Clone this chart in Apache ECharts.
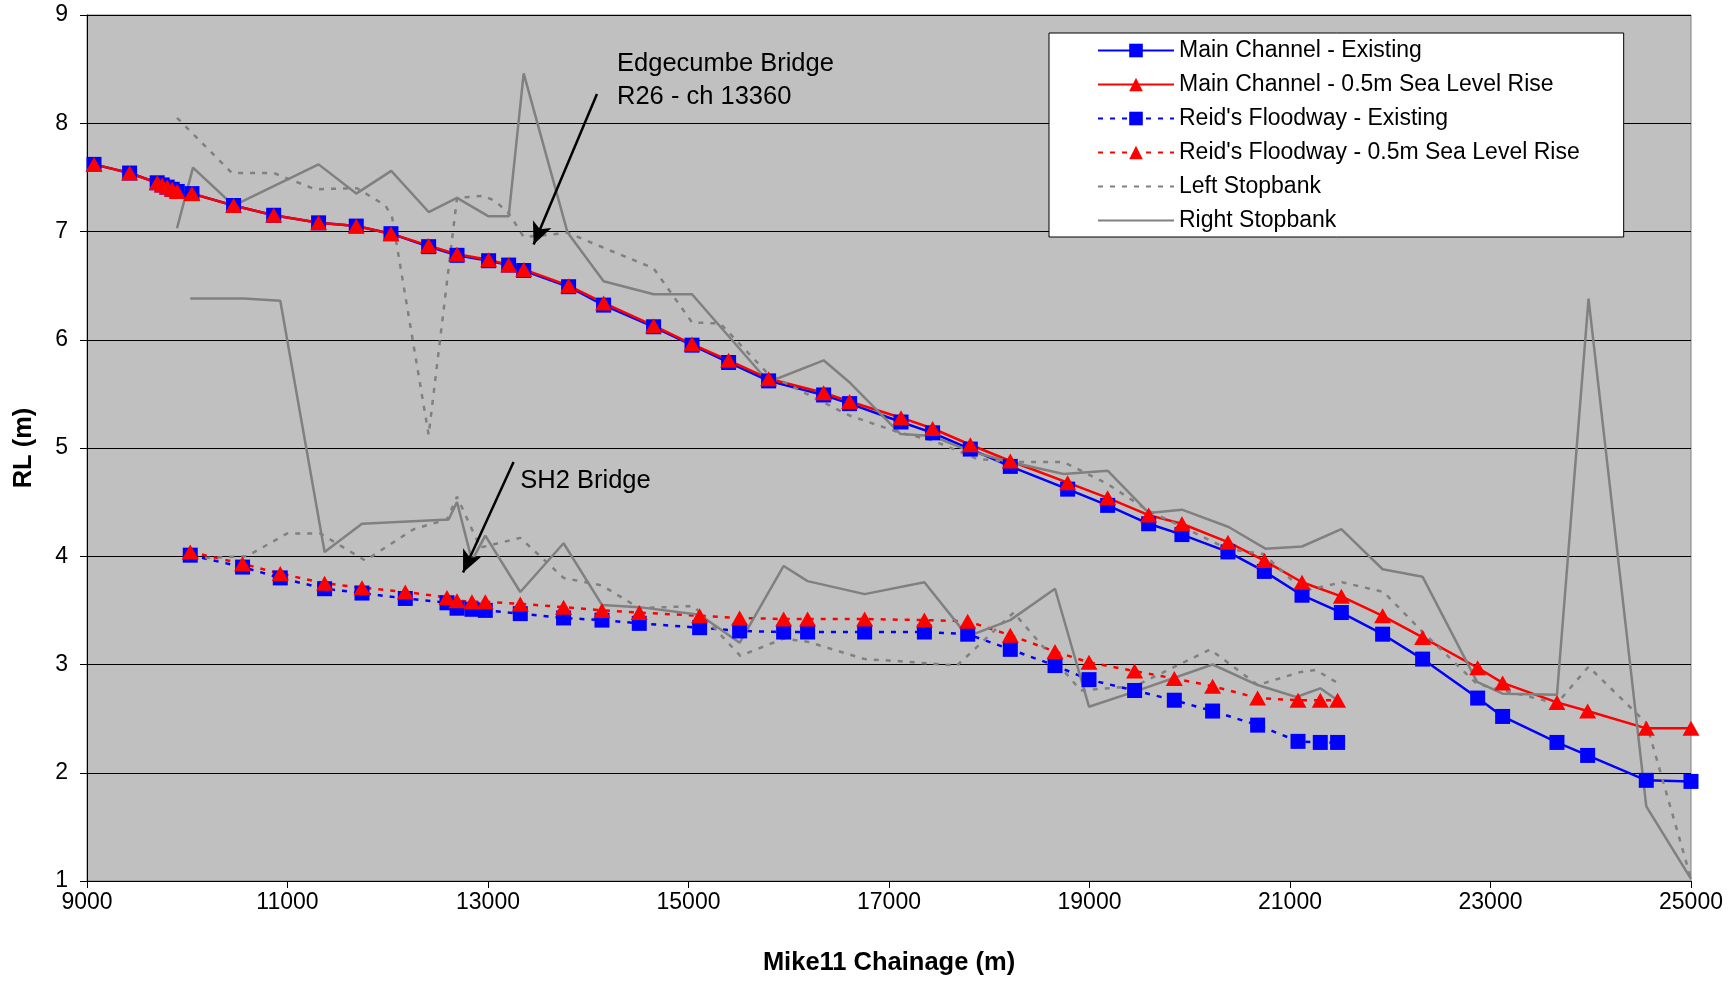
<!DOCTYPE html>
<html><head><meta charset="utf-8">
<script src="https://cdn.jsdelivr.net/npm/echarts@6/dist/echarts.min.js"></script>
<style>html,body{margin:0;padding:0;background:#fff}#c{width:1732px;height:981px}</style>
</head><body><div id="c"></div>
<script>
// ---------- DATA ----------
const mainX = [9070,9425,9700,9750,9800,9850,9900,10047,10462,10862,11310,11686,12032,12408,12691,13006,13206,13356,13804,14153,14652,15035,15400,15799,16348,16607,17120,17435,17811,18210,18782,19181,19590,19922,20381,20744,21120,21512,21924,22323,22872,23121,23663,23969,24554,25000];
const mainExisting = [7.62,7.54,7.45,7.43,7.41,7.39,7.37,7.35,7.24,7.15,7.08,7.05,6.98,6.86,6.78,6.73,6.69,6.64,6.49,6.32,6.12,5.95,5.79,5.62,5.49,5.41,5.24,5.14,4.99,4.83,4.62,4.47,4.30,4.20,4.04,3.86,3.64,3.48,3.28,3.05,2.69,2.52,2.28,2.16,1.93,1.92];
const mainSLR = [7.62,7.54,7.45,7.43,7.41,7.39,7.37,7.35,7.24,7.15,7.08,7.05,6.98,6.87,6.79,6.74,6.69,6.65,6.50,6.34,6.13,5.96,5.81,5.64,5.51,5.43,5.28,5.18,5.03,4.88,4.68,4.54,4.38,4.30,4.13,3.96,3.76,3.63,3.45,3.25,2.97,2.83,2.65,2.57,2.41,2.41];

const reidX = [10030,10552,10928,11370,11743,12175,12591,12691,12840,12973,13322,13754,14137,14509,15111,15510,15949,16188,16757,17353,17785,18210,18656,18995,19450,19846,20228,20677,21080,21302,21475];
const reidExisting = [4.01,3.90,3.80,3.70,3.66,3.61,3.57,3.52,3.51,3.50,3.47,3.43,3.41,3.38,3.34,3.31,3.30,3.30,3.30,3.30,3.28,3.14,2.99,2.86,2.76,2.67,2.57,2.44,2.29,2.28,2.28];
const reidSLR = [4.04,3.93,3.84,3.75,3.71,3.67,3.62,3.59,3.58,3.58,3.56,3.53,3.50,3.48,3.45,3.43,3.42,3.42,3.42,3.41,3.40,3.27,3.12,3.02,2.94,2.87,2.80,2.69,2.67,2.67,2.67];

const leftBankMainX = [9898,10446,10862,11277,11693,11976,12042,12408,12691,12956,13073,13206,13356,13622,13794,14153,14652,15035,15317,15799,16348,16607,17113,17435,17878,18227,18742,19175,19590,19906,20372,20737,21136,21519,21934,22323,22866,23663,23978,24554,25000];
const leftBankMainY = [8.05,7.54,7.54,7.39,7.40,7.24,7.14,5.12,7.31,7.33,7.28,7.17,6.95,6.97,6.99,6.85,6.66,6.16,6.15,5.68,5.42,5.30,5.14,5.07,4.90,4.87,4.87,4.67,4.42,4.28,4.07,4.02,3.68,3.76,3.67,3.30,2.82,2.64,2.98,2.46,1.02];

const rightBankMainX = [9898,10057,10462,11310,11686,12035,12408,12691,13006,13206,13356,13794,14153,14652,15035,15799,16348,16614,17113,17435,17811,18210,18742,19181,19590,19922,20388,20754,21120,21512,21924,22323,22866,23121,23663,23978,24554,25000];
const rightBankMainY = [7.03,7.59,7.24,7.62,7.35,7.56,7.18,7.31,7.14,7.14,8.46,6.99,6.54,6.42,6.42,5.61,5.81,5.60,5.13,5.11,4.97,4.87,4.76,4.79,4.40,4.43,4.27,4.07,4.09,4.25,3.88,3.81,2.84,2.73,2.72,6.38,1.69,1.02];

const leftBankReidX = [10060,10596,10995,11327,11776,12258,12591,12691,12923,13322,13754,14137,14509,15052,15517,15949,16188,16757,17113,17678,18243,18912,19450,20205,20677,21103,21255,21475];
const leftBankReidY = [3.98,4.00,4.21,4.21,3.96,4.25,4.34,4.55,4.08,4.17,3.80,3.73,3.52,3.54,3.08,3.24,3.21,3.05,3.03,2.99,3.48,2.76,2.80,3.14,2.81,2.93,2.95,2.83];

const rightBankReidX = [10030,10562,10928,11370,11743,12607,12691,12840,12973,13322,13754,14137,14509,15111,15510,15949,16188,16757,17353,17785,18210,18656,18995,19450,20228,20677,21063,21302,21475];
const rightBankReidY = [6.38,6.38,6.36,4.04,4.30,4.34,4.50,3.96,4.19,3.67,4.12,3.55,3.53,3.46,3.20,3.91,3.77,3.65,3.76,3.26,3.41,3.70,2.61,2.75,3.00,2.81,2.70,2.78,2.67];

const seriesNames = ['Main Channel - Existing','Main Channel - 0.5m Sea Level Rise',"Reid's Floodway - Existing","Reid's Floodway - 0.5m Sea Level Rise",'Left Stopbank','Right Stopbank'];

// annotations (data coordinates)
const annoTexts = [
  {text:'Edgecumbe Bridge', x:14287, y:8.55},
  {text:'R26 - ch 13360', x:14287, y:8.24},
  {text:'SH2 Bridge', x:13322, y:4.70}
];
const annoArrows = [
  {from:[14087,8.27], to:[13455,6.88]},
  {from:[13255,4.87], to:[12751,3.85]}
];

// ---------- CHART ----------
const FONT = "'Liberation Sans', Arial, sans-serif";
const zip = (xs, ys) => xs.map((x,i)=>[x, ys[i]]);
const DOT = [5,7];
const chart = echarts.init(document.getElementById('c'), null, {renderer:'canvas'});

const gray = '#808080';
const legendData = seriesNames.map((n,i)=> i>=4 ? {name:n, itemStyle:{opacity:0}} : {name:n});
const option = {
  animation:false,
  backgroundColor:'#ffffff',
  textStyle:{fontFamily:FONT},
  grid:{left:87, right:41, top:15, bottom:98, show:true, backgroundColor:'#C0C0C0', borderColor:'#808080', borderWidth:1},
  legend:{
    data:legendData, orient:'vertical', left:1049, top:33,
    padding:[6,44,5,48], itemWidth:76, itemHeight:17, itemGap:11,
    backgroundColor:'#ffffff', borderColor:'#000', borderWidth:1,
    textStyle:{fontSize:23, color:'#000', fontFamily:FONT}
  },
  xAxis:{
    type:'value', min:9000, max:25000, interval:2000,
    axisLine:{show:true, onZero:false, lineStyle:{color:'#000', width:1}},
    axisTick:{show:true, length:7, lineStyle:{color:'#000'}},
    axisLabel:{fontSize:23, color:'#000', margin:10, fontFamily:FONT, formatter:v=>String(v)},
    splitLine:{show:false},
    name:'Mike11 Chainage (m)', nameLocation:'middle', nameGap:69,
    nameTextStyle:{fontSize:25.5, fontWeight:'bold', color:'#000', fontFamily:FONT}
  },
  yAxis:{
    type:'value', min:1, max:9, interval:1,
    axisLine:{show:true, onZero:false, lineStyle:{color:'#000', width:1}},
    axisTick:{show:true, length:7, lineStyle:{color:'#000'}},
    axisLabel:{fontSize:23, color:'#000', margin:19, fontFamily:FONT},
    splitLine:{show:true, lineStyle:{color:'#000', width:1}},
    name:'RL (m)', nameLocation:'middle', nameGap:50,
    nameTextStyle:{fontSize:25.5, fontWeight:'bold', color:'#000', fontFamily:FONT}
  },
  series:[
    {name:seriesNames[0], type:'line', data:zip(mainX, mainExisting), symbol:'rect', symbolSize:15,
     itemStyle:{color:'#0000FF'}, lineStyle:{color:'#0000FF', width:2.5},
     markLine:{silent:true, symbol:['none','arrow'], symbolSize:[15,22], label:{show:false},
       lineStyle:{color:'#000', width:2.5, type:'solid'},
       data:annoArrows.map(a=>[{coord:a.from},{coord:a.to}])}},
    {name:seriesNames[1], type:'line', data:zip(mainX, mainSLR), symbol:'triangle', symbolSize:[17,15],
     itemStyle:{color:'#FF0000'}, lineStyle:{color:'#FF0000', width:2.5}},
    {name:seriesNames[2], type:'line', data:zip(reidX, reidExisting), symbol:'rect', symbolSize:15,
     itemStyle:{color:'#0000FF'}, lineStyle:{color:'#0000FF', width:2.5, type:DOT}},
    {name:seriesNames[3], type:'line', data:zip(reidX, reidSLR), symbol:'triangle', symbolSize:[17,15],
     itemStyle:{color:'#FF0000'}, lineStyle:{color:'#FF0000', width:2.5, type:DOT}},
    {name:seriesNames[4], type:'line', data:zip(leftBankMainX, leftBankMainY), symbol:'none', showSymbol:false,
     itemStyle:{color:gray}, lineStyle:{color:gray, width:2.5, type:DOT}},
    {name:seriesNames[4], type:'line', data:zip(leftBankReidX, leftBankReidY), symbol:'none', showSymbol:false,
     itemStyle:{color:gray}, lineStyle:{color:gray, width:2.5, type:DOT}},
    {name:seriesNames[5], type:'line', data:zip(rightBankMainX, rightBankMainY), symbol:'none', showSymbol:false,
     itemStyle:{color:gray}, lineStyle:{color:gray, width:2.5}},
    {name:seriesNames[5], type:'line', data:zip(rightBankReidX, rightBankReidY), symbol:'none', showSymbol:false,
     itemStyle:{color:gray}, lineStyle:{color:gray, width:2.5}}
  ]
};
chart.setOption(option);

const graphics = annoTexts.map(t=>{
  const p = chart.convertToPixel({gridIndex:0},[t.x,t.y]);
  return {type:'text', x:p[0], y:p[1], z:100,
    style:{text:t.text, fill:'#000', font:"25.5px "+FONT, textVerticalAlign:'middle', verticalAlign:'middle'}};
});
chart.setOption({graphic:graphics});
</script>
</body></html>
